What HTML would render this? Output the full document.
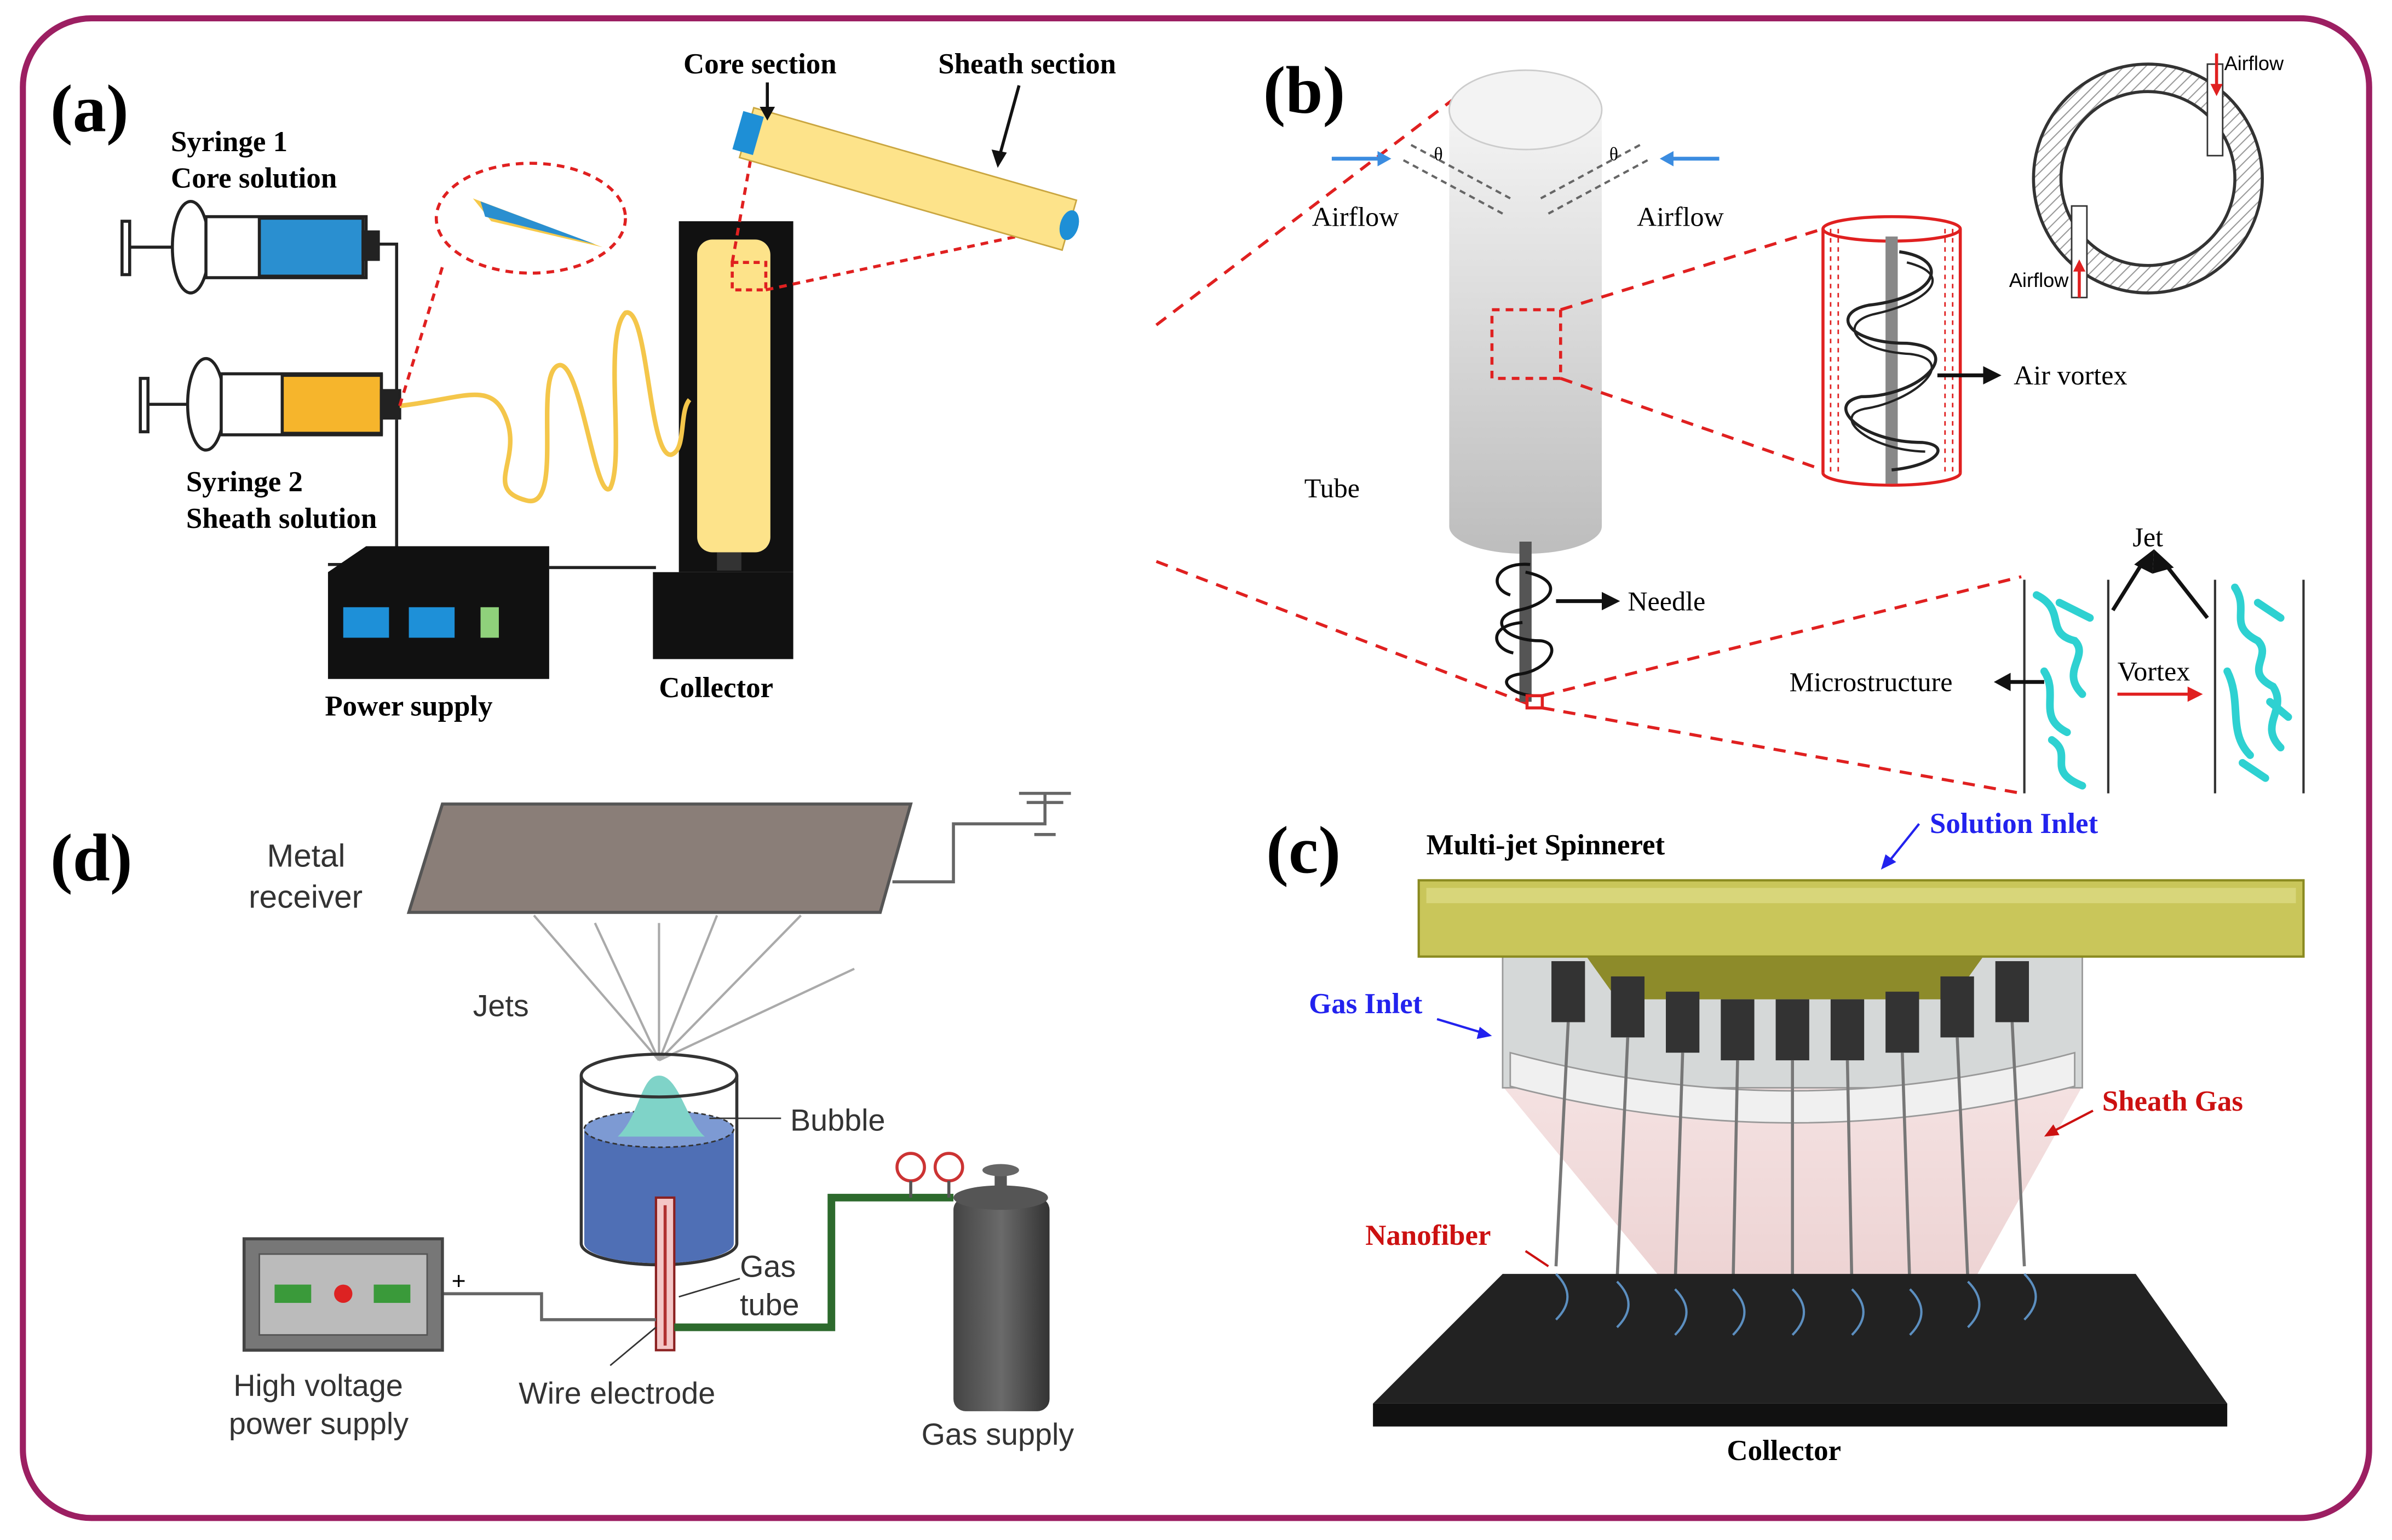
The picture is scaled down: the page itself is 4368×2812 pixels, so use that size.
<!DOCTYPE html>
<html><head><meta charset="utf-8"><style>
html,body{margin:0;padding:0;background:#fff}
svg{display:block}
.s{font-family:"Liberation Serif",serif}
.a{font-family:"Liberation Sans",sans-serif}
</style></head><body>
<svg width="4368" height="2812" viewBox="0 0 1568 1009.4" xmlns="http://www.w3.org/2000/svg">
<defs>
<linearGradient id="tg" x1="0" x2="0" y1="0" y2="1"><stop offset="0" stop-color="#f4f4f4"/><stop offset="1" stop-color="#bdbdbd"/></linearGradient>
<linearGradient id="cg" x1="0" x2="1"><stop offset="0" stop-color="#444"/><stop offset=".5" stop-color="#6a6a6a"/><stop offset="1" stop-color="#333"/></linearGradient>
<linearGradient id="pk" x1="0" x2="0" y1="0" y2="1"><stop offset="0" stop-color="#f3dede"/><stop offset="1" stop-color="#e7c7c7"/></linearGradient>
<pattern id="hatch" width="5" height="5" patternUnits="userSpaceOnUse" patternTransform="rotate(45)"><rect width="5" height="5" fill="#fff"/><line x1="0" y1="0" x2="0" y2="5" stroke="#999" stroke-width="1.5"/></pattern>
</defs>
<rect x="15" y="12" width="1538" height="983" rx="45" fill="#fff" stroke="#9c1f62" stroke-width="4"/>

<!-- (a) -->
<text x="33" y="86" class="s" font-size="44" font-weight="bold">(a)</text>
<text x="112" y="99" class="s" font-size="19" font-weight="bold">Syringe 1</text>
<text x="112" y="123" class="s" font-size="19" font-weight="bold">Core solution</text>
<text x="122" y="322" class="s" font-size="19" font-weight="bold">Syringe 2</text>
<text x="122" y="346" class="s" font-size="19" font-weight="bold">Sheath solution</text>
<g stroke="#222" stroke-width="2" fill="#fff">
<rect x="80" y="145" width="5" height="35"/><line x1="85" y1="162" x2="125" y2="162"/>
<ellipse cx="125" cy="162" rx="12" ry="30"/>
<rect x="135" y="142" width="105" height="40"/>
<rect x="170" y="143" width="68" height="38" fill="#2a8fd0"/>
<rect x="238" y="152" width="10" height="18" fill="#222"/>
<rect x="92" y="248" width="5" height="35"/><line x1="97" y1="265" x2="135" y2="265"/>
<ellipse cx="135" cy="265" rx="12" ry="30"/>
<rect x="145" y="245" width="105" height="40"/>
<rect x="185" y="246" width="65" height="38" fill="#f6b52c"/>
<rect x="250" y="256" width="12" height="18" fill="#222"/>
</g>
<polyline points="248,160 260,160 260,265" fill="none" stroke="#222" stroke-width="2"/>
<polyline points="260,275 260,370 215,370" fill="none" stroke="#222" stroke-width="2"/>
<line x1="360" y1="372" x2="430" y2="372" stroke="#222" stroke-width="2"/>
<polygon points="215,375 240,358 360,358 360,430 360,445 215,445" fill="#111"/>
<rect x="225" y="398" width="30" height="20" fill="#1e90d8"/><rect x="268" y="398" width="30" height="20" fill="#1e90d8"/><rect x="315" y="398" width="12" height="20" fill="#8fd17b"/>
<text x="213" y="469" class="s" font-size="19" font-weight="bold">Power supply</text>
<rect x="445" y="145" width="75" height="230" fill="#111"/>
<rect x="457" y="157" width="48" height="205" rx="10" fill="#fde38a"/>
<rect x="470" y="362" width="16" height="12" fill="#333"/>
<rect x="428" y="375" width="92" height="57" fill="#111"/>
<text x="432" y="457" class="s" font-size="19" font-weight="bold">Collector</text>
<rect x="480" y="172" width="22" height="18" fill="none" stroke="#e02020" stroke-width="2" stroke-dasharray="4,3"/>
<line x1="480" y1="172" x2="495" y2="88" stroke="#e02020" stroke-width="2" stroke-dasharray="5,4"/>
<line x1="502" y1="190" x2="690" y2="150" stroke="#e02020" stroke-width="2" stroke-dasharray="5,4"/>
<path d="M262,266 C300,262 320,250 330,270 C345,300 315,320 345,328 C370,335 350,250 365,240 C380,230 390,330 400,320 C410,300 395,220 410,205 C425,200 425,300 440,298 C450,295 445,270 452,262" fill="none" stroke="#f4c64a" stroke-width="3"/>
<ellipse cx="348" cy="143" rx="62" ry="36" fill="none" stroke="#e02020" stroke-width="2" stroke-dasharray="5,4"/>
<polygon points="310,130 395,162 322,145" fill="#f6c94a"/><polygon points="315,132 390,160 318,142" fill="#2a8fd0"/>
<line x1="262" y1="266" x2="290" y2="175" stroke="#e02020" stroke-width="2" stroke-dasharray="5,4"/>
<g transform="rotate(16 490 85)">
<rect x="490" y="70" width="220" height="34" fill="#fde38a" stroke="#caa640" stroke-width="1"/>
<rect x="484" y="74" width="14" height="26" fill="#1e8fd6"/>
<ellipse cx="710" cy="87" rx="6" ry="10" fill="#1e8fd6"/>
</g>
<text x="448" y="48" class="s" font-size="19" font-weight="bold">Core section</text>
<text x="615" y="48" class="s" font-size="19" font-weight="bold">Sheath section</text>
<line x1="503" y1="54" x2="503" y2="75" stroke="#111" stroke-width="2"/><polygon points="498,70 508,70 503,79" fill="#111"/>
<line x1="668" y1="56" x2="655" y2="103" stroke="#111" stroke-width="2"/><polygon points="650,98 660,100 654,110" fill="#111"/>

<!-- (b) -->
<text x="828" y="74" class="s" font-size="44" font-weight="bold">(b)</text>
<line x1="758" y1="213" x2="962" y2="58" stroke="#e02020" stroke-width="2" stroke-dasharray="8,6"/>
<line x1="758" y1="368" x2="1006" y2="463" stroke="#e02020" stroke-width="2" stroke-dasharray="8,6"/>
<path d="M950,72 L950,345 A50,18 0 0 0 1050,345 L1050,72 Z" fill="url(#tg)"/>
<ellipse cx="1000" cy="72" rx="50" ry="26" fill="#f3f3f3" stroke="#ccc"/>
<g stroke="#666" stroke-width="1.5" fill="none">
<path d="M920,105 L985,140 M925,95 L990,130" stroke-dasharray="4,3"/>
<path d="M1080,105 L1015,140 M1075,95 L1010,130" stroke-dasharray="4,3"/>
</g>
<line x1="873" y1="104" x2="905" y2="104" stroke="#3b8ce0" stroke-width="2.5"/><polygon points="903,99 912,104 903,109" fill="#3b8ce0"/>
<line x1="1127" y1="104" x2="1095" y2="104" stroke="#3b8ce0" stroke-width="2.5"/><polygon points="1097,99 1088,104 1097,109" fill="#3b8ce0"/>
<text x="940" y="105" class="s" font-size="12">θ</text><text x="1055" y="105" class="s" font-size="12">θ</text>
<text x="860" y="148" class="s" font-size="18">Airflow</text>
<text x="1073" y="148" class="s" font-size="18">Airflow</text>
<text x="855" y="326" class="s" font-size="18">Tube</text>
<rect x="978" y="203" width="45" height="45" fill="none" stroke="#e02020" stroke-width="2" stroke-dasharray="5,4"/>
<line x1="1023" y1="203" x2="1195" y2="150" stroke="#e02020" stroke-width="2" stroke-dasharray="8,6"/>
<line x1="1023" y1="248" x2="1195" y2="308" stroke="#e02020" stroke-width="2" stroke-dasharray="8,6"/>
<g stroke="#e02020" stroke-width="2" fill="none">
<ellipse cx="1240" cy="150" rx="45" ry="8"/><line x1="1195" y1="150" x2="1195" y2="310"/><line x1="1285" y1="150" x2="1285" y2="310"/>
<path d="M1195,310 A45,8 0 0 0 1285,310"/>
<path d="M1200,150 L1200,310 M1205,150 L1205,310 M1275,150 L1275,310 M1280,150 L1280,310" stroke-width="1" stroke-dasharray="3,3"/>
</g>
<rect x="1236" y="155" width="8" height="162" fill="#888"/>
<path d="M1245,165 C1280,170 1270,195 1225,200 C1200,205 1210,225 1250,225 C1290,228 1260,260 1220,260 C1195,265 1220,290 1260,290 C1280,292 1270,305 1240,308" fill="none" stroke="#222" stroke-width="2"/>
<path d="M1250,172 C1282,180 1265,198 1228,206 C1205,212 1215,230 1252,232 C1285,236 1255,263 1222,268 C1200,273 1225,295 1262,296" fill="none" stroke="#222" stroke-width="1.5"/>
<line x1="1270" y1="246" x2="1305" y2="246" stroke="#111" stroke-width="2.5"/><polygon points="1300,240 1312,246 1300,252" fill="#111"/>
<text x="1320" y="252" class="s" font-size="18">Air vortex</text>
<path d="M1483,117 A75,75 0 1 0 1333,117 A75,75 0 1 0 1483,117 Z M1465,117 A57,57 0 1 1 1351,117 A57,57 0 1 1 1465,117 Z" fill="url(#hatch)" fill-rule="evenodd" stroke="#333" stroke-width="2"/>
<rect x="1447" y="42" width="10" height="60" fill="#fff" stroke="#333"/>
<rect x="1358" y="135" width="10" height="60" fill="#fff" stroke="#333"/>
<line x1="1453" y1="35" x2="1453" y2="58" stroke="#e02020" stroke-width="2"/><polygon points="1449,55 1457,55 1453,63" fill="#e02020"/>
<line x1="1363" y1="195" x2="1363" y2="175" stroke="#e02020" stroke-width="2"/><polygon points="1359,178 1367,178 1363,170" fill="#e02020"/>
<text x="1458" y="46" class="a" font-size="13">Airflow</text>
<text x="1317" y="188" class="a" font-size="13">Airflow</text>
<rect x="996" y="355" width="8" height="105" fill="#555"/>
<path d="M1000,375 C1025,380 1020,395 995,400 C975,405 985,420 1010,420 C1025,422 1015,440 995,442 C980,445 990,455 1005,456" fill="none" stroke="#111" stroke-width="2"/>
<path d="M1003,370 C980,368 975,385 990,390 M998,408 C975,410 978,425 992,428" fill="none" stroke="#111" stroke-width="2"/>
<line x1="1020" y1="394" x2="1055" y2="394" stroke="#111" stroke-width="2.5"/><polygon points="1050,388 1062,394 1050,400" fill="#111"/>
<text x="1067" y="400" class="s" font-size="18">Needle</text>
<rect x="1001" y="456" width="10" height="8" fill="none" stroke="#e02020" stroke-width="2"/>
<line x1="1011" y1="456" x2="1325" y2="378" stroke="#e02020" stroke-width="2" stroke-dasharray="8,6"/>
<line x1="1011" y1="464" x2="1325" y2="520" stroke="#e02020" stroke-width="2" stroke-dasharray="8,6"/>
<g stroke="#333" stroke-width="1.5"><line x1="1327" y1="380" x2="1327" y2="520"/><line x1="1382" y1="380" x2="1382" y2="520"/><line x1="1452" y1="380" x2="1452" y2="520"/><line x1="1510" y1="380" x2="1510" y2="520"/></g>
<g fill="none" stroke="#2ed1d1" stroke-width="5" stroke-linecap="round">
<path d="M1335,390 C1355,400 1340,415 1360,420 C1370,430 1350,440 1365,455 M1340,440 C1350,455 1335,470 1355,480 M1345,485 C1360,495 1340,505 1365,515 M1350,395 L1370,405"/>
<path d="M1465,385 C1475,400 1460,410 1480,420 C1490,430 1470,440 1490,450 C1500,465 1480,475 1495,490 M1460,440 C1470,460 1460,480 1475,495 M1470,500 L1485,510 M1480,395 L1495,405 M1488,460 L1500,470"/>
</g>
<line x1="1385" y1="400" x2="1405" y2="368" stroke="#111" stroke-width="2.5"/><line x1="1447" y1="405" x2="1418" y2="368" stroke="#111" stroke-width="2.5"/>
<polygon points="1399,370 1412,360 1411,376" fill="#111"/><polygon points="1411,376 1412,360 1425,372" fill="#111"/>
<text x="1398" y="358" class="s" font-size="18">Jet</text>
<line x1="1340" y1="447" x2="1315" y2="447" stroke="#111" stroke-width="2.5"/><polygon points="1318,441 1307,447 1318,453" fill="#111"/>
<text x="1173" y="453" class="s" font-size="18">Microstructure</text>
<text x="1388" y="446" class="s" font-size="18">Vortex</text>
<line x1="1388" y1="455" x2="1438" y2="455" stroke="#e02020" stroke-width="2"/><polygon points="1434,450 1444,455 1434,460" fill="#e02020"/>

<!-- (d) -->
<text x="33" y="577" class="s" font-size="44" font-weight="bold">(d)</text>
<polygon points="268,598 290,527 597,527 577,598" fill="#8a7e78" stroke="#555" stroke-width="2"/>
<text x="175" y="568" class="a" font-size="21" fill="#333">Metal</text>
<text x="163" y="595" class="a" font-size="21" fill="#333">receiver</text>
<polyline points="585,578 625,578 625,540 685,540 685,520" fill="none" stroke="#666" stroke-width="2"/>
<line x1="668" y1="520" x2="702" y2="520" stroke="#666" stroke-width="2"/><line x1="673" y1="526" x2="697" y2="526" stroke="#666" stroke-width="2"/><line x1="678" y1="547" x2="692" y2="547" stroke="#666" stroke-width="2"/>
<g stroke="#aaa" stroke-width="1.5">
<line x1="432" y1="695" x2="350" y2="600"/><line x1="432" y1="695" x2="390" y2="605"/><line x1="432" y1="695" x2="432" y2="605"/><line x1="432" y1="695" x2="470" y2="600"/><line x1="432" y1="695" x2="525" y2="600"/><line x1="432" y1="695" x2="560" y2="635"/>
</g>
<text x="310" y="666" class="a" font-size="20" fill="#333">Jets</text>
<path d="M381,705 L381,815 A51,14 0 0 0 483,815 L483,705" fill="#fff" stroke="#333" stroke-width="2"/>
<path d="M383,740 L383,815 A49,13 0 0 0 481,815 L481,740 Z" fill="#4f6fb5"/>
<ellipse cx="432" cy="740" rx="49" ry="12" fill="#7d9ad3" stroke="#333" stroke-dasharray="3,2"/>
<path d="M405,745 C420,730 420,705 432,705 C445,705 450,735 462,745 Z" fill="#7fd3c8"/>
<ellipse cx="432" cy="705" rx="51" ry="14" fill="none" stroke="#333" stroke-width="2"/>
<line x1="465" y1="733" x2="512" y2="733" stroke="#333"/>
<text x="518" y="741" class="a" font-size="20" fill="#333">Bubble</text>
<rect x="430" y="785" width="12" height="100" fill="#f4c6c6" stroke="#8b2020" stroke-width="1.5"/>
<line x1="436" y1="790" x2="436" y2="882" stroke="#b03030" stroke-width="2"/>
<polyline points="442,870 545,870 545,785 625,785" fill="none" stroke="#2d6a2d" stroke-width="5"/>
<polyline points="290,848 355,848 355,865 430,865" fill="none" stroke="#666" stroke-width="2"/>
<text x="296" y="845" class="a" font-size="16">+</text>
<line x1="445" y1="850" x2="485" y2="838" stroke="#333"/>
<text x="485" y="837" class="a" font-size="20" fill="#333">Gas</text>
<text x="485" y="862" class="a" font-size="20" fill="#333">tube</text>
<line x1="430" y1="870" x2="400" y2="895" stroke="#333"/>
<text x="340" y="920" class="a" font-size="20" fill="#333">Wire electrode</text>
<rect x="160" y="812" width="130" height="73" fill="#777" stroke="#444" stroke-width="2"/>
<rect x="170" y="822" width="110" height="53" fill="#bbb" stroke="#555"/>
<rect x="180" y="842" width="24" height="12" fill="#3a9a3a"/><rect x="245" y="842" width="24" height="12" fill="#3a9a3a"/><circle cx="225" cy="848" r="6" fill="#d22"/>
<text x="153" y="915" class="a" font-size="20" fill="#333">High voltage</text>
<text x="150" y="940" class="a" font-size="20" fill="#333">power supply</text>
<rect x="625" y="785" width="63" height="140" rx="8" fill="url(#cg)"/>
<ellipse cx="656" cy="785" rx="31" ry="8" fill="#555"/>
<rect x="652" y="768" width="8" height="12" fill="#555"/><ellipse cx="656" cy="767" rx="12" ry="4" fill="#666"/>
<circle cx="597" cy="765" r="9" fill="#fff" stroke="#c33" stroke-width="2"/><circle cx="622" cy="765" r="9" fill="#fff" stroke="#c33" stroke-width="2"/>
<line x1="597" y1="774" x2="597" y2="785" stroke="#555" stroke-width="2"/><line x1="622" y1="774" x2="622" y2="785" stroke="#555" stroke-width="2"/>
<text x="604" y="947" class="a" font-size="20" fill="#333">Gas supply</text>

<!-- (c) -->
<text x="830" y="572" class="s" font-size="44" font-weight="bold">(c)</text>
<text x="935" y="560" class="s" font-size="19" font-weight="bold">Multi-jet Spinneret</text>
<text x="1265" y="546" class="s" font-size="19" font-weight="bold" fill="#2222ee">Solution Inlet</text>
<line x1="1258" y1="540" x2="1238" y2="565" stroke="#2222ee" stroke-width="1.5"/><polygon points="1233,570 1236,560 1243,565" fill="#2222ee"/>
<polygon points="985,712 1140,900 1260,900 1365,712" fill="url(#pk)" opacity="0.9"/>
<rect x="985" y="615" width="380" height="98" fill="#d5d8d8" stroke="#999"/>
<path d="M990,690 Q1175,740 1360,690 L1360,712 Q1175,760 990,712 Z" fill="#f0f0f0" stroke="#999"/>
<rect x="930" y="577" width="580" height="50" fill="#c9c65a" stroke="#8a8a20" stroke-width="1.5"/>
<rect x="935" y="582" width="570" height="10" fill="#d8d67a"/>
<polygon points="1040,627 1300,627 1280,655 1060,655" fill="#8d8b2a"/>
<g fill="#333">
<rect x="1017" y="630" width="22" height="40"/><rect x="1056" y="640" width="22" height="40"/><rect x="1092" y="650" width="22" height="40"/><rect x="1128" y="655" width="22" height="40"/><rect x="1164" y="655" width="22" height="40"/><rect x="1200" y="655" width="22" height="40"/><rect x="1236" y="650" width="22" height="40"/><rect x="1272" y="640" width="22" height="40"/><rect x="1308" y="630" width="22" height="40"/>
</g>
<g stroke="#777" stroke-width="2">
<line x1="1028" y1="670" x2="1020" y2="830"/><line x1="1067" y1="680" x2="1060" y2="840"/><line x1="1103" y1="690" x2="1098" y2="845"/><line x1="1139" y1="695" x2="1136" y2="845"/><line x1="1175" y1="695" x2="1175" y2="845"/><line x1="1211" y1="695" x2="1214" y2="845"/><line x1="1247" y1="690" x2="1252" y2="845"/><line x1="1283" y1="680" x2="1290" y2="840"/><line x1="1319" y1="670" x2="1327" y2="830"/>
</g>
<polygon points="900,920 1460,920 1400,835 985,835" fill="#222"/>
<polygon points="900,920 1460,920 1460,935 900,935" fill="#111"/>
<g fill="none" stroke="#5c8fc0" stroke-width="1.5">
<path d="M1020,835 q15,15 0,30 M1060,840 q15,15 0,30 M1098,845 q15,15 0,30 M1136,845 q15,15 0,30 M1175,845 q15,15 0,30 M1214,845 q15,15 0,30 M1252,845 q15,15 0,30 M1290,840 q15,15 0,30 M1327,835 q15,15 0,30"/>
</g>
<text x="858" y="664" class="s" font-size="19" font-weight="bold" fill="#2222ee">Gas Inlet</text>
<line x1="942" y1="668" x2="972" y2="677" stroke="#2222ee" stroke-width="1.5"/><polygon points="978,679 968,681 970,673" fill="#2222ee"/>
<text x="1378" y="728" class="s" font-size="19" font-weight="bold" fill="#cc1111">Sheath Gas</text>
<line x1="1372" y1="728" x2="1345" y2="742" stroke="#cc1111" stroke-width="1.5"/><polygon points="1340,745 1346,737 1350,744" fill="#cc1111"/>
<text x="895" y="816" class="s" font-size="19" font-weight="bold" fill="#cc1111">Nanofiber</text>
<line x1="1000" y1="820" x2="1015" y2="830" stroke="#cc1111" stroke-width="1.5"/>
<text x="1132" y="957" class="s" font-size="19" font-weight="bold">Collector</text>
</svg>
</body></html>
